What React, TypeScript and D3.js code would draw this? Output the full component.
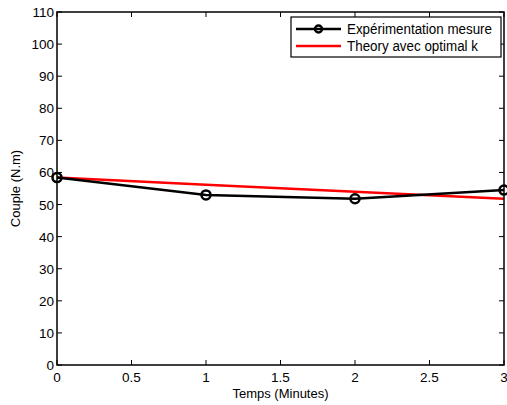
import React from "react";
import * as d3 from "d3";

const xTicks = [0, 0.5, 1, 1.5, 2, 2.5, 3];
const yTicks = [0, 10, 20, 30, 40, 50, 60, 70, 80, 90, 100, 110];
const times = [0, 1, 2, 3];
const measured = [58.4, 53.0, 51.8, 54.5];
const theory = [58.4, 56.2, 54.0, 51.8];
const legendLabels = ["Expérimentation mesure", "Theory avec optimal k"];

export default function App() {
  const W = 507, H = 405;
  const left = 57, right = 504, top = 12, bottom = 365;
  const x = d3.scaleLinear().domain([0, 3]).range([left, right]);
  const y = d3.scaleLinear().domain([0, 110]).range([bottom, top]);
  const line = d3.line<number>().x((_, i) => x(times[i])).y((d) => y(d));
  const font = "'Liberation Sans', Arial, Helvetica, sans-serif";
  const tl = 5;
  return (
    <svg width={W} height={H} style={{ position: "absolute", left: 0, top: 0, background: "#fff" }} fontFamily={font}>
      <rect x={0} y={0} width={W} height={H} fill="#fff" />
      {xTicks.map((t) => (
        <g key={"x" + t}>
          <line x1={x(t)} x2={x(t)} y1={bottom} y2={bottom - tl} stroke="#000" strokeWidth={1} />
          <line x1={x(t)} x2={x(t)} y1={top} y2={top + tl} stroke="#000" strokeWidth={1} />
          <text x={x(t)} y={382} fontSize={13.5} textAnchor="middle">{t}</text>
        </g>
      ))}
      {yTicks.map((t) => (
        <g key={"y" + t}>
          <line x1={left} x2={left + tl} y1={y(t)} y2={y(t)} stroke="#000" strokeWidth={1} />
          <line x1={right} x2={right - tl} y1={y(t)} y2={y(t)} stroke="#000" strokeWidth={1} />
          <text x={left - 3} y={y(t) + 5} fontSize={13.5} textAnchor="end">{t}</text>
        </g>
      ))}
      <path d={line(theory) || ""} fill="none" stroke="#ff0000" strokeWidth={2.5} />
      <path d={line(measured) || ""} fill="none" stroke="#000" strokeWidth={2.5} />
      {measured.map((v, i) => (
        <circle key={i} cx={x(times[i])} cy={y(v)} r={4.5} fill="none" stroke="#000" strokeWidth={2.5} />
      ))}
      <rect x={left} y={top} width={right - left} height={bottom - top} fill="none" stroke="#000" strokeWidth={1.5} />
      <text x={(left + right) / 2} y={398} fontSize={13} textAnchor="middle">Temps (Minutes)</text>
      <text transform={`translate(19.5,${(top + bottom) / 2}) rotate(-90)`} fontSize={13} textAnchor="middle">Couple (N.m)</text>
      <g>
        <rect x={291} y={17} width={210} height={40} fill="#fff" stroke="#000" strokeWidth={1.2} />
        <line x1={296} x2={341} y1={29} y2={29} stroke="#000" strokeWidth={2.5} />
        <circle cx={318.5} cy={29} r={3.5} fill="none" stroke="#000" strokeWidth={2.5} />
        <text x={347} y={34} fontSize={14} textLength={145} lengthAdjust="spacingAndGlyphs">{legendLabels[0]}</text>
        <line x1={296} x2={341} y1={46} y2={46} stroke="#ff0000" strokeWidth={2.5} />
        <text x={347} y={51} fontSize={14} textLength={131} lengthAdjust="spacingAndGlyphs">{legendLabels[1]}</text>
      </g>
    </svg>
  );
}
